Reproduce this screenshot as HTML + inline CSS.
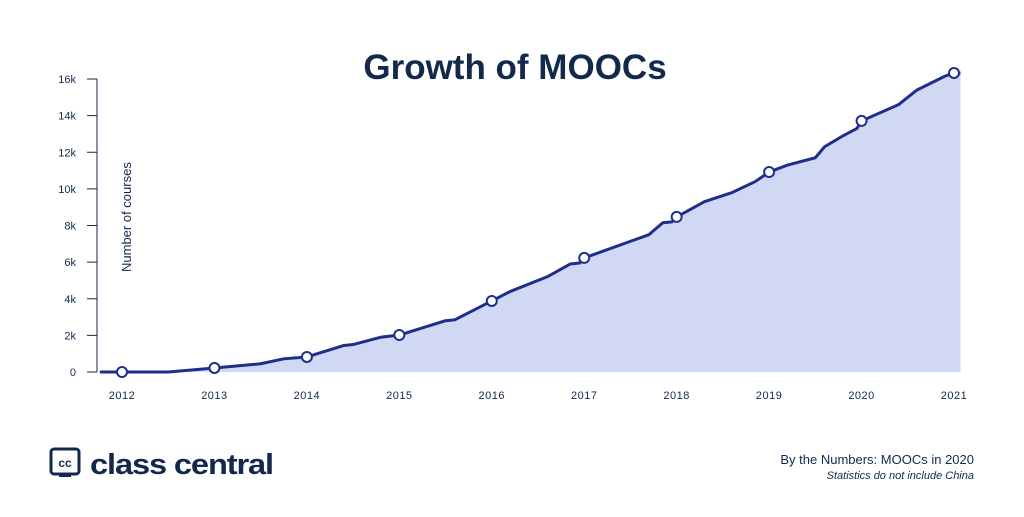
<!DOCTYPE html>
<html><head><meta charset="utf-8"><style>
body{margin:0;background:#fff;width:1024px;height:512px;overflow:hidden;font-family:"Liberation Sans",sans-serif}
</style></head><body>
<svg id="chart" width="1024" height="512">
<text x="515" y="79" text-anchor="middle" font-size="35" font-weight="bold" fill="#13294b">Growth of MOOCs</text>
<text transform="translate(131,272) rotate(-90)" font-size="13" fill="#13294b">Number of courses</text>
<g id="grid"></g>
<path id="area" fill="#d0d8f3"></path>
<path id="line" fill="none" stroke="#1e2f8a" stroke-width="3" stroke-linejoin="round"></path>
<g id="points"></g>
<g>
<rect x="51" y="449" width="28" height="25" rx="3" fill="none" stroke="#13294b" stroke-width="3"/>
<rect x="59" y="473" width="12" height="4" fill="#13294b"/>
<text x="65" y="467" text-anchor="middle" font-size="12" font-weight="bold" fill="#13294b">cc</text>
<text x="90" y="474" font-size="29" font-weight="bold" fill="#13294b" letter-spacing="-1" textLength="183" lengthAdjust="spacingAndGlyphs">class central</text>
</g>
<text x="974" y="464" text-anchor="end" font-size="13" fill="#13294b">By the Numbers: MOOCs in 2020</text>
<text x="974" y="479" text-anchor="end" font-size="11" font-style="italic" fill="#13294b">Statistics do not include China</text>
</svg>
<script>
const yearTicks=[2012,2013,2014,2015,2016,2017,2018,2019,2020,2021];
const yTicks=[0,2000,4000,6000,8000,10000,12000,14000,16000];
const yTickLabels=["0","2k","4k","6k","8k","10k","12k","14k","16k"];
const times=[2011.76,2012,2012.5,2013,2013.5,2013.75,2014,2014.4,2014.5,2014.8,2015,2015.5,2015.6,2016,2016.2,2016.6,2016.85,2016.95,2017,2017.7,2017.85,2017.95,2018,2018.3,2018.6,2018.85,2019,2019.2,2019.5,2019.6,2019.8,2019.95,2020,2020.4,2020.6,2020.9,2021,2021.07];
const courses=[0,0,0,220,450,720,820,1450,1500,1900,2020,2800,2850,3880,4400,5200,5900,5950,6230,7500,8150,8200,8470,9300,9800,10400,10920,11300,11700,12300,12900,13300,13710,14600,15400,16150,16330,16330];
const markerYears=[2012,2013,2014,2015,2016,2017,2018,2019,2020,2021];
const ns="http://www.w3.org/2000/svg";
const X=t=>122+(t-2012)*(954-122)/9;
const Y=v=>372-v*(372-79)/16000;
const grid=document.getElementById('grid');
function mk(tag,attrs,parent){const e=document.createElementNS(ns,tag);for(const k in attrs)e.setAttribute(k,attrs[k]);parent.appendChild(e);return e;}
const ax=mk('line',{x1:97,y1:79,x2:97,y2:372,stroke:'#13294b','stroke-width':1},grid);


yTicks.forEach((v,i)=>{
 const tk=mk('line',{x1:87,x2:97,y1:Y(v),y2:Y(v),stroke:'#13294b'},grid);
 
 
 const t=mk('text',{x:76,y:Y(v)+4,'text-anchor':'end','font-size':11,fill:'#13294b'},grid);
 t.textContent=yTickLabels[i];
 
 
});
yearTicks.forEach(yr=>{
 const t=mk('text',{x:X(yr),y:399,'text-anchor':'middle','font-size':11,fill:'#13294b','letter-spacing':'0.5'},grid);
 t.textContent=yr;
 
 
});
let d='';times.forEach((t,i)=>{d+=(i?'L':'M')+X(t)+','+Y(courses[i]);});
document.getElementById('line').setAttribute('d',d);
document.getElementById('area').setAttribute('d',d+'L'+X(times[times.length-1])+','+Y(0)+'L'+X(times[0])+','+Y(0)+'Z');
const pts=document.getElementById('points');
markerYears.forEach(yr=>{
 const i=times.indexOf(yr);
 const c=mk('circle',{cx:X(yr),cy:Y(courses[i]),r:5,fill:'#fff',stroke:'#1e2f8a','stroke-width':2},pts);
 
 
});
</script>
</body></html>
